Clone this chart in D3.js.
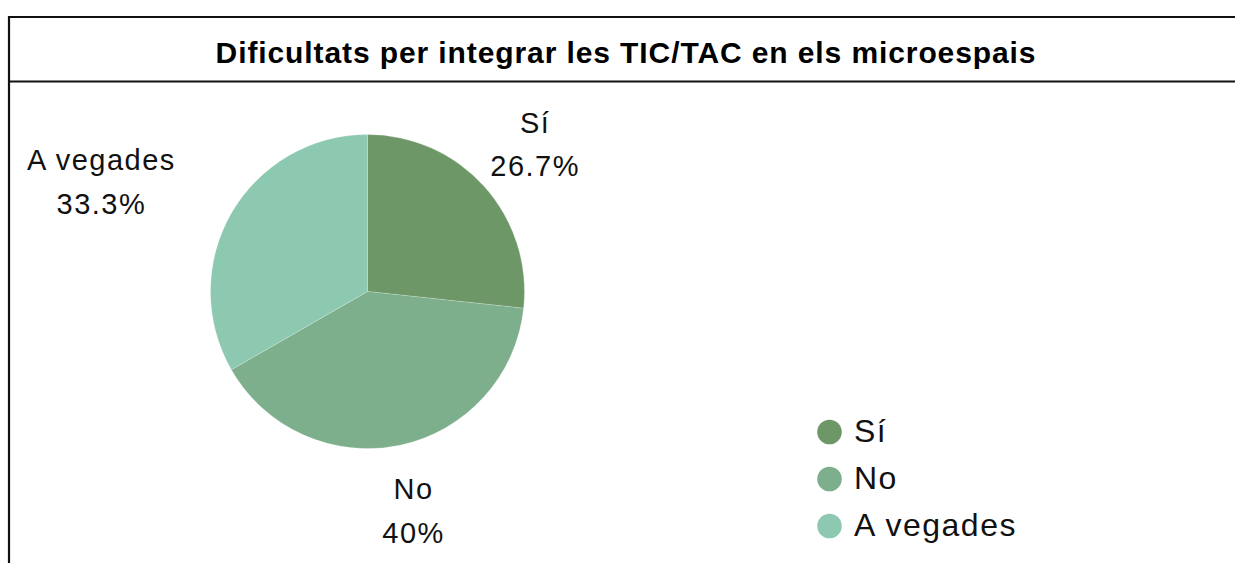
<!DOCTYPE html>
<html><head><meta charset="utf-8">
<script src="https://cdn.jsdelivr.net/npm/d3@7"></script>
<style>html,body{margin:0;padding:0;background:#fff;overflow:hidden}</style>
</head><body>
<script>
const title = "Dificultats per integrar les TIC/TAC en els microespais";
const categories = ["Sí", "No", "A vegades"];
const values = [26.7, 40, 33.3];
const valueLabels = ["26.7%", "40%", "33.3%"];
const colors = ["#6d9766", "#7daf8c", "#8dc9b0"];

const W = 1235, H = 563;
const svg = d3.select("body").append("svg").attr("width", W).attr("height", H);
const font = "'Liberation Sans', Arial, sans-serif";

// frame
svg.append("path").attr("d", `M9,${H+5} V17 H${W+5}`).attr("fill","none").attr("stroke","#111").attr("stroke-width",2.2);
svg.append("line").attr("x1",9).attr("x2",W+5).attr("y1",81.5).attr("y2",81.5).attr("stroke","#111").attr("stroke-width",2.2);

svg.append("text").attr("x", 626).attr("y", 62.5).attr("text-anchor","middle")
  .attr("font-family", font).attr("font-weight","bold").attr("font-size", 30)
  .attr("letter-spacing", 0.9).attr("fill","#000").text(title);

const cx = 367.5, cy = 291.5, R = 157;
const pie = d3.pie().sort(null).value(d => d)(values);
const arc = d3.arc().innerRadius(0).outerRadius(R);
const g = svg.append("g").attr("transform", `translate(${cx},${cy})`);
g.selectAll("path").data(pie).join("path").attr("d", arc)
  .attr("fill", (d,i) => colors[i]).attr("stroke", "#fff").attr("stroke-width", 0.4).attr("stroke-opacity",0.5);

// labels
const fs = 29, lh = 43.5, ls = 1.5;
const lg = g.append("g").attr("font-family", font).attr("font-size", fs).attr("letter-spacing", ls).attr("fill","#111");
pie.forEach((d, i) => {
  const a = (d.startAngle + d.endAngle) / 2;
  const t = lg.append("text").attr("text-anchor","middle");
  t.append("tspan").attr("x",ls/2).attr("dy",0).text(categories[i]);
  t.append("tspan").attr("x",ls/2).attr("dy",lh).text(valueLabels[i]);
  const w = t.node().getBBox().width - ls;
  const s = Math.sin(a);
  const x = s * (83 + 1.45 * w) + 10 * Math.sign(s);
  const yc = -Math.cos(a) * 222.5 + 1.5;
  const base1 = yc - (lh - 0.716 * fs) / 2;
  t.attr("transform", `translate(${x},${base1})`);
});

// legend
const leg = svg.append("g").attr("font-family", font).attr("font-size", 32).attr("letter-spacing", 1.5);
categories.forEach((c, i) => {
  const y = 432 + i * 47;
  leg.append("circle").attr("cx", 829.5).attr("cy", y).attr("r", 12.3).attr("fill", colors[i]);
  leg.append("text").attr("x", 854).attr("y", y + 9.5).attr("fill","#111").text(c);
});
</script>
</body></html>
